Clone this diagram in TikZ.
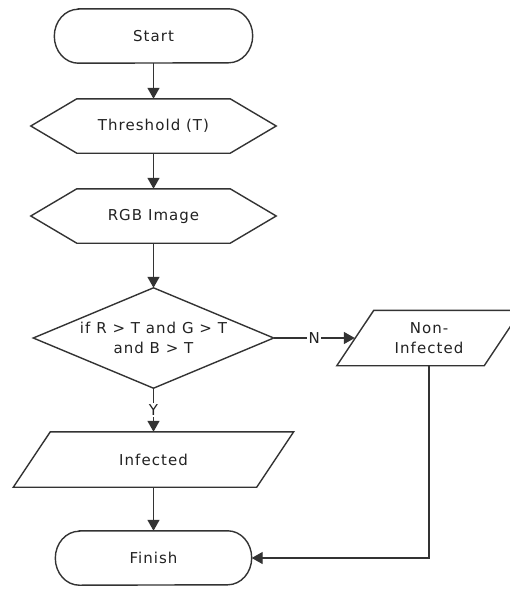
\documentclass[tikz,border=0pt]{standalone}
\usepackage{fontspec}
\setmainfont{DejaVu Sans}[LetterSpace=7]
\usetikzlibrary{arrows.meta}

\definecolor{ink}{HTML}{222222}
\definecolor{stroke}{HTML}{333333}

% outline helpers, drawn around plain rectangular text nodes
\newcommand\drawstadium[1]{%
  \draw[outline] ([xshift=24pt]#1.north west) -- ([xshift=-24pt]#1.north east)
    arc[start angle=90, end angle=-90, x radius=24pt, y radius=27pt]
    -- ([xshift=24pt]#1.south west)
    arc[start angle=270, end angle=90, x radius=24pt, y radius=27pt] -- cycle;}
\newcommand\drawhexagon[1]{%
  \draw[outline] ([xshift=46pt]#1.north west) -- ([xshift=-46pt]#1.north east)
    -- (#1.east) -- ([xshift=-46pt]#1.south east)
    -- ([xshift=46pt]#1.south west) -- (#1.west) -- cycle;}
\newcommand\drawrhombus[1]{%
  \draw[outline] (#1.north) -- (#1.east) -- (#1.south) -- (#1.west) -- cycle;}
\newcommand\drawslant[1]{%
  \draw[outline] ([xshift=37pt]#1.north west) -- (#1.north east)
    -- ([xshift=-37pt]#1.south east) -- (#1.south west) -- cycle;}

\begin{document}
\begin{tikzpicture}[x=1pt, y=-1pt,
  outline/.style={draw=stroke, line width=1.4pt, line join=miter},
  flow/.style={draw=stroke, line width=1.4pt,
    -{Triangle[length=11pt, width=12pt]}},
  box/.style={inner sep=0pt, align=center, text=ink,
    font=\fontsize{15}{19.5}\selectfont},
  lbl/.style={fill=white, inner sep=1.5pt, text=ink,
    font=\fontsize{15}{16}\selectfont}]

\clip (0,0) rectangle (510,589);
\fill[white] (0,0) rectangle (510,589);

% steps
\node[box, minimum width=198pt, minimum height=54pt] (start) at (153.5,36) {Start};
\node[box, minimum width=245pt, minimum height=54pt] (thr) at (153.5,126) {Threshold (T)};
\node[box, minimum width=245pt, minimum height=54pt] (rgb) at (153.5,216) {RGB Image};
\node[box, minimum width=240pt, minimum height=100pt] (dec) at (153.5,338)
  {if R > T and G > T\\and B > T};
\node[box, minimum width=280pt, minimum height=55pt] (inf) at (153.5,459.5) {Infected};
\node[box, minimum width=184pt, minimum height=55pt] (ninf) at (429,338) {Non-\\Infected};
\node[box, minimum width=196pt, minimum height=54pt] (fin) at (153.5,558) {Finish};

\drawstadium{start}
\drawhexagon{thr}
\drawhexagon{rgb}
\drawrhombus{dec}
\drawslant{inf}
\drawslant{ninf}
\drawstadium{fin}

% connectors
\draw[flow] (start.south) -- (thr.north);
\draw[flow] (thr.south) -- (rgb.north);
\draw[flow] (rgb.south) -- (dec.north);
\draw[flow] (dec.south) -- node[lbl] {Y} (inf.north);
\draw[flow] (dec.east) -- node[lbl] {N} ([xshift=18pt]ninf.west);
\draw[flow] (inf.south) -- (fin.north);
\draw[flow] (ninf.south) |- (fin.east);
\end{tikzpicture}
\end{document}
